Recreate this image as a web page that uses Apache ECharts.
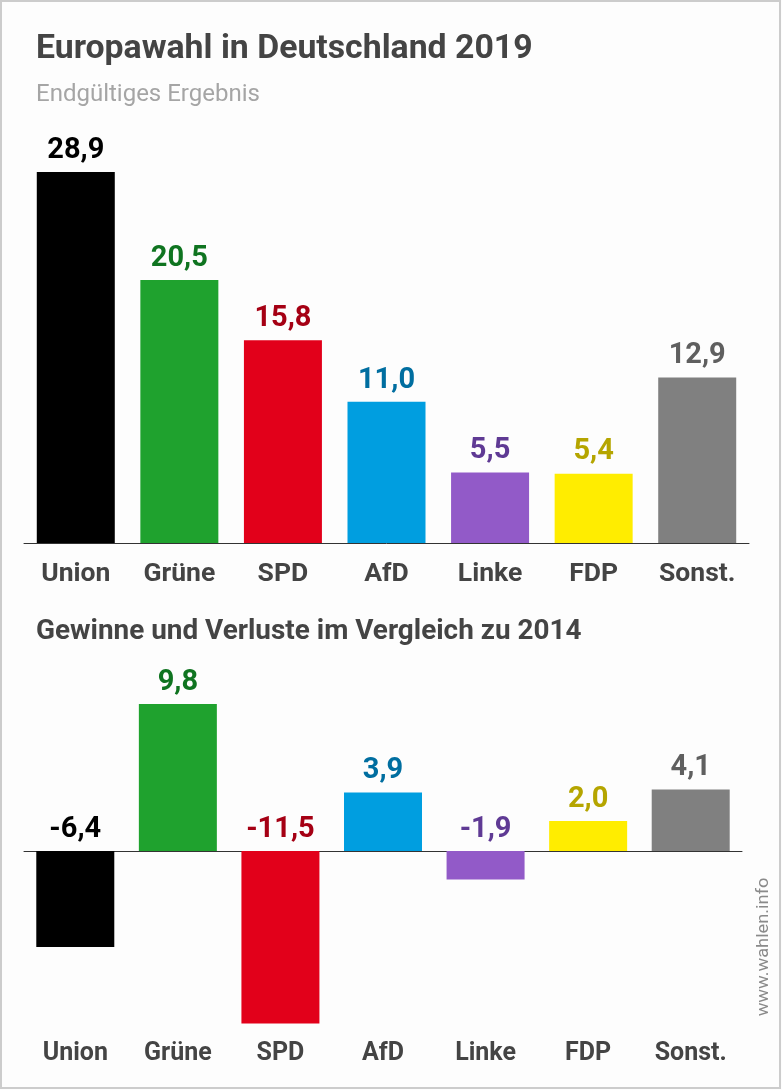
<!DOCTYPE html>
<html>
<head>
<meta charset="utf-8">
<title>Europawahl in Deutschland 2019</title>
<script src="https://cdn.jsdelivr.net/npm/echarts@6/dist/echarts.min.js"></script>
<style>
  html,body{margin:0;padding:0;background:#fdfdfd}
  .demo{width:782px;height:1090px}
</style>
</head>
<body>
<div class="demo"></div>
<script>
const parties = ['Union','Grüne','SPD','AfD','Linke','FDP','Sonst.']
const result2019 = [28.9,20.5,15.8,11.0,5.5,5.4,12.9]
const change2014 = [-6.4,9.8,-11.5,3.9,-1.9,2.0,4.1]
const barColors = ['#000000','#1fa22e','#e2001a','#009ee0','#925ac8','#ffed00','#808080']
const labelColors = ['#000000','#0f7420','#a50014','#006ea0','#5f3a94','#b5a500','#5f5f5f']

const fontName = 'Roboto'
const comma = v => v.toFixed(1).replace('.',',')
const barData = values => values.map((v,i) => ({
  value:v,
  itemStyle:{color:barColors[i]},
  label:{color:labelColors[i]}
}))
const barLabel = {
  show:true,
  position:'top',
  distance:7,
  fontFamily:fontName,
  fontWeight:700,
  fontSize:29,
  formatter:p => comma(p.value)
}
const catAxis = (gridIndex,margin,fontSize) => ({
  type:'category',
  gridIndex,
  data:parties,
  axisTick:{show:false},
  axisLine:{onZero:true,lineStyle:{color:'#333333',width:1}},
  axisLabel:{
    margin,
    interval:0,
    color:'#444444',
    fontFamily:fontName,
    fontWeight:700,
    fontSize
  }
})
const valAxis = (gridIndex,min,max) => ({
  type:'value',
  gridIndex,
  min,
  max,
  show:false
})

const chartinstance = echarts.init(document.querySelector('.demo'))
const option = {
  animation:false,
  backgroundColor:'#fdfdfd',
  title:[
    {text:'Europawahl in Deutschland 2019',left:36,top:33,padding:0,
      textStyle:{fontFamily:fontName,fontWeight:700,fontSize:33.8,color:'#444444'}},
    {text:'Endgültiges Ergebnis',left:36,top:83,padding:0,
      textStyle:{fontFamily:fontName,fontWeight:400,fontSize:24,color:'#a5a5a5'}},
    {text:'Gewinne und Verluste im Vergleich zu 2014',left:36,top:618,padding:0,
      textStyle:{fontFamily:fontName,fontWeight:700,fontSize:27.9,color:'#444444'}}
  ],
  grid:[
    {left:24,width:725,top:158,height:385,outerBoundsMode:'none'},
    {left:24,width:718,top:701,height:330,outerBoundsMode:'none'}
  ],
  xAxis:[catAxis(0,18,26.5),catAxis(1,10,25)],
  yAxis:[valAxis(0,0,30),valAxis(1,-12,10)],
  series:[
    {type:'bar',xAxisIndex:0,yAxisIndex:0,barWidth:78,label:barLabel,data:barData(result2019)},
    {type:'bar',xAxisIndex:1,yAxisIndex:1,barWidth:78,label:barLabel,data:barData(change2014)}
  ],
  graphic:[
    {type:'rect',shape:{x:1,y:1,width:779,height:1087},
      style:{fill:'none',stroke:'#cccccc',lineWidth:2},silent:true},
    {type:'text',x:764,y:947,rotation:Math.PI/2,scaleX:1.14,
      style:{text:'www.wahlen.info',fontFamily:fontName,fontSize:16,fill:'#8a8a8a',
        textAlign:'center',textVerticalAlign:'middle'},silent:true}
  ]
}
option && chartinstance.setOption(option)
</script>
</body>
</html>
